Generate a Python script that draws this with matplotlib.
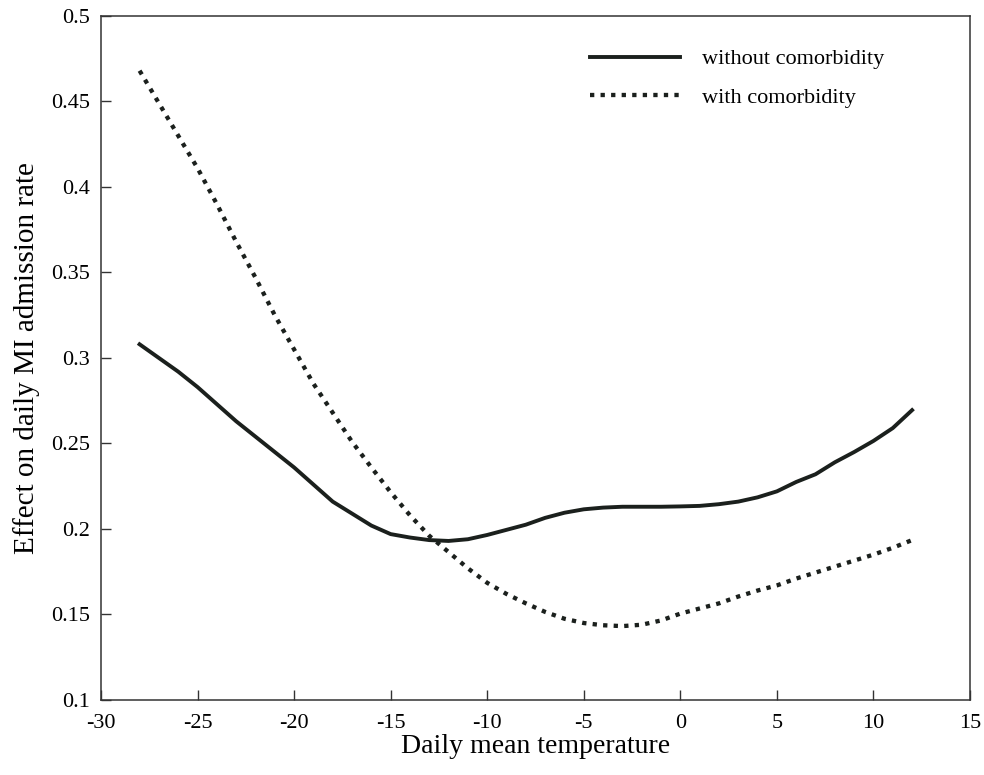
import matplotlib
matplotlib.use("Agg")
import matplotlib.pyplot as plt

# Daily mean temperature (deg C)
temperature = list(range(-28, 13))

# Effect on daily MI admission rate
without_comorbidity = [
    0.308, 0.300, 0.292, 0.283, 0.273, 0.263, 0.254, 0.245, 0.236, 0.226,
    0.216, 0.209, 0.202, 0.197, 0.195, 0.1935, 0.193, 0.194, 0.1965, 0.1995,
    0.2025, 0.2065, 0.2095, 0.2115, 0.2125, 0.213, 0.213, 0.213, 0.2132, 0.2135,
    0.2145, 0.216, 0.2185, 0.222, 0.2275, 0.232, 0.239, 0.245, 0.2515, 0.259,
    0.2695,
]
with_comorbidity = [
    0.468, 0.449, 0.430, 0.411, 0.390, 0.368, 0.347, 0.325, 0.305, 0.285,
    0.268, 0.251, 0.236, 0.2215, 0.208, 0.196, 0.1865, 0.177, 0.1685, 0.162,
    0.1565, 0.1515, 0.1475, 0.145, 0.1437, 0.1432, 0.1440, 0.1465, 0.1505, 0.1535,
    0.1565, 0.1605, 0.164, 0.167, 0.171, 0.1745, 0.178, 0.1815, 0.185, 0.189,
    0.1935,
]

xticks = [-30, -25, -20, -15, -10, -5, 0, 5, 10, 15]
yticks = [0.1, 0.15, 0.2, 0.25, 0.3, 0.35, 0.4, 0.45, 0.5]

plt.rcParams["font.family"] = ["Liberation Serif", "DejaVu Serif"]
line_color = "#1b201d"

fig = plt.figure(figsize=(9.84, 7.75), dpi=100)
ax = fig.add_axes([0.1026, 0.0968, 0.8832, 0.8826])

ax.plot(temperature, without_comorbidity, color=line_color, lw=2.8,
        label="without comorbidity")
ax.plot(temperature, with_comorbidity, color=line_color, lw=3.1,
        linestyle=(0, (1, 1.45)), dash_capstyle="butt",
        label="with comorbidity")

ax.set_xlim(-30, 15)
ax.set_ylim(0.1, 0.5)
ax.set_xticks(xticks)
ax.set_yticks(yticks)
ax.set_xticklabels([f"{t:g}" for t in xticks])
ax.set_yticklabels([f"{t:g}" for t in yticks])
ax.tick_params(direction="in", length=7, width=1, labelsize=16, color="#333333")
ax.tick_params(axis="x", pad=10)
ax.tick_params(axis="y", pad=8)
for s in ax.spines.values():
    s.set_linewidth(1.1)
    s.set_color("#333333")

ax.set_xlabel("Daily mean temperature", fontsize=20, labelpad=1)
ax.set_ylabel("Effect on daily MI admission rate", fontsize=21, labelpad=8)

ax.legend(loc="upper left", bbox_to_anchor=(0.5627, 0.952), frameon=False,
          fontsize=16, handlelength=4.05, handletextpad=1.0, labelspacing=0.8,
          borderpad=0, borderaxespad=0)

fig.savefig("out.png", dpi=100)
